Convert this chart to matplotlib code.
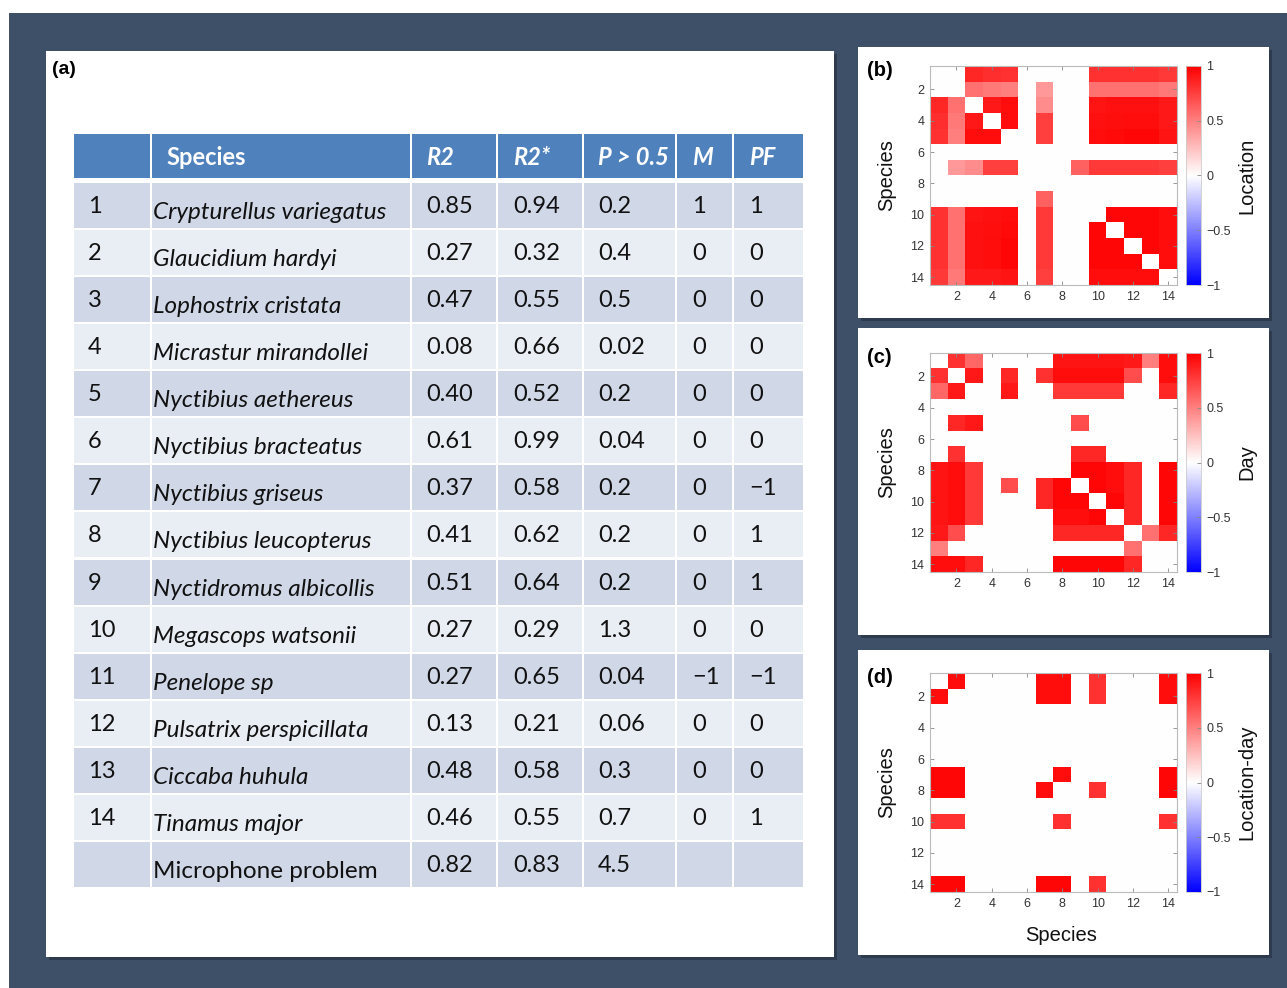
import matplotlib
matplotlib.use('Agg')
import matplotlib.pyplot as plt
from matplotlib.patches import Rectangle
import numpy as np

# ---------------- table data (panel a) ----------------
headers = ['', 'Species', 'R2', 'R2*', 'P > 0.5', 'M', 'PF']
index_labels = ['1', '2', '3', '4', '5', '6', '7', '8', '9', '10', '11', '12', '13', '14', '']
species = ['Crypturellus variegatus', 'Glaucidium hardyi', 'Lophostrix cristata',
           'Micrastur mirandollei', 'Nyctibius aethereus', 'Nyctibius bracteatus',
           'Nyctibius griseus', 'Nyctibius leucopterus', 'Nyctidromus albicollis',
           'Megascops watsonii', 'Penelope sp', 'Pulsatrix perspicillata',
           'Ciccaba huhula', 'Tinamus major', 'Microphone problem']
r2 = ['0.85', '0.27', '0.47', '0.08', '0.40', '0.61', '0.37', '0.41', '0.51', '0.27',
      '0.27', '0.13', '0.48', '0.46', '0.82']
r2_star = ['0.94', '0.32', '0.55', '0.66', '0.52', '0.99', '0.58', '0.62', '0.64', '0.29',
           '0.65', '0.21', '0.58', '0.55', '0.83']
p_gt = ['0.2', '0.4', '0.5', '0.02', '0.2', '0.04', '0.2', '0.2', '0.2', '1.3',
        '0.04', '0.06', '0.3', '0.7', '4.5']
m_col = ['1', '0', '0', '0', '0', '0', '0', '0', '0', '0', '\u22121', '0', '0', '0', '']
pf_col = ['1', '0', '0', '0', '0', '0', '\u22121', '1', '1', '0', '\u22121', '0', '0', '1', '']

# ---------------- correlation matrices (panels b-d) ----------------
location = [
    [0, 0, .85, .82, .80, 0, 0, 0, 0, .80, .80, .80, .80, .78],
    [0, 0, .55, .52, .50, 0, .40, 0, 0, .55, .55, .55, .55, .52],
    [.85, .55, 0, .90, .95, 0, .45, 0, 0, .92, .93, .93, .93, .90],
    [.82, .52, .90, 0, .95, 0, .75, 0, 0, .93, .94, .95, .95, .90],
    [.80, .50, .95, .95, 0, 0, .75, 0, 0, .95, .96, .97, .97, .92],
    [0, 0, 0, 0, 0, 0, 0, 0, 0, 0, 0, 0, 0, 0],
    [0, .40, .45, .75, .75, 0, 0, 0, .62, .78, .78, .78, .78, .75],
    [0, 0, 0, 0, 0, 0, 0, 0, 0, 0, 0, 0, 0, 0],
    [0, 0, 0, 0, 0, 0, .62, 0, 0, 0, 0, 0, 0, 0],
    [.80, .55, .92, .93, .95, 0, .78, 0, 0, 0, .97, .97, .97, .95],
    [.80, .55, .93, .94, .96, 0, .78, 0, 0, .97, 0, .97, .97, .95],
    [.80, .55, .93, .95, .97, 0, .78, 0, 0, .97, .97, 0, .97, .95],
    [.80, .55, .93, .95, .97, 0, .78, 0, 0, .97, .97, .97, 0, .95],
    [.78, .52, .90, .90, .92, 0, .75, 0, 0, .95, .95, .95, .95, 0],
]
day = [
    [0, .80, .60, 0, 0, 0, 0, .92, .92, .92, .92, .90, .50, .95],
    [.80, 0, .90, 0, .85, 0, .80, .95, .95, .95, .95, .70, 0, .95],
    [.60, .90, 0, 0, .90, 0, 0, .78, .78, .78, .78, 0, 0, .85],
    [0, 0, 0, 0, 0, 0, 0, 0, 0, 0, 0, 0, 0, 0],
    [0, .85, .90, 0, 0, 0, 0, 0, .70, 0, 0, 0, 0, 0],
    [0, 0, 0, 0, 0, 0, 0, 0, 0, 0, 0, 0, 0, 0],
    [0, .80, 0, 0, 0, 0, 0, 0, .85, .85, 0, 0, 0, 0],
    [.92, .95, .78, 0, 0, 0, 0, 0, .97, .97, .95, .85, 0, .97],
    [.92, .95, .78, 0, .70, 0, .85, .97, 0, .97, .95, .85, 0, .97],
    [.92, .95, .78, 0, 0, 0, .85, .97, .97, 0, .97, .85, 0, .97],
    [.92, .95, .78, 0, 0, 0, 0, .95, .95, .97, 0, .85, 0, .97],
    [.90, .70, 0, 0, 0, 0, 0, .85, .85, .85, .85, 0, .55, .85],
    [.50, 0, 0, 0, 0, 0, 0, 0, 0, 0, 0, .55, 0, 0],
    [.95, .95, .85, 0, 0, 0, 0, .97, .97, .97, .97, .85, 0, 0],
]
location_day = [
    [0, .95, 0, 0, 0, 0, .95, .95, 0, .80, 0, 0, 0, .95],
    [.95, 0, 0, 0, 0, 0, .95, .95, 0, .80, 0, 0, 0, .95],
    [0, 0, 0, 0, 0, 0, 0, 0, 0, 0, 0, 0, 0, 0],
    [0, 0, 0, 0, 0, 0, 0, 0, 0, 0, 0, 0, 0, 0],
    [0, 0, 0, 0, 0, 0, 0, 0, 0, 0, 0, 0, 0, 0],
    [0, 0, 0, 0, 0, 0, 0, 0, 0, 0, 0, 0, 0, 0],
    [.97, .97, 0, 0, 0, 0, 0, .95, 0, 0, 0, 0, 0, .97],
    [.97, .97, 0, 0, 0, 0, .95, 0, 0, .80, 0, 0, 0, .97],
    [0, 0, 0, 0, 0, 0, 0, 0, 0, 0, 0, 0, 0, 0],
    [.80, .80, 0, 0, 0, 0, 0, .80, 0, 0, 0, 0, 0, .80],
    [0, 0, 0, 0, 0, 0, 0, 0, 0, 0, 0, 0, 0, 0],
    [0, 0, 0, 0, 0, 0, 0, 0, 0, 0, 0, 0, 0, 0],
    [0, 0, 0, 0, 0, 0, 0, 0, 0, 0, 0, 0, 0, 0],
    [.97, .97, 0, 0, 0, 0, .97, .97, 0, .80, 0, 0, 0, 0],
]
tick_vals = [2, 4, 6, 8, 10, 12, 14]
cbar_ticks = [-1, -0.5, 0, 0.5, 1]
cbar_labels = ['\u22121', '\u22120.5', '0', '0.5', '1']

# ---------------- figure ----------------
W, H = 1287, 988
fig = plt.figure(figsize=(W / 100, H / 100), dpi=100, facecolor='white')

TFONT = ['Lato', 'DejaVu Sans']
PFONT = ['Liberation Sans', 'DejaVu Sans']


def px_axes(x0, y0, x1, y1):
    return fig.add_axes([x0 / W, 1 - y1 / H, (x1 - x0) / W, (y1 - y0) / H])


bg = fig.add_axes([0, 0, 1, 1])
bg.set_xlim(0, W)
bg.set_ylim(H, 0)
bg.axis('off')
bg.add_patch(Rectangle((9, 13), W - 9, H - 13, color='#3e4f68', lw=0))


def card(x0, y0, x1, y1):
    bg.add_patch(Rectangle((x0 + 3, y0 + 3), x1 - x0, y1 - y0, color='#2e3b4f', lw=0))
    bg.add_patch(Rectangle((x0, y0), x1 - x0, y1 - y0, color='white', lw=0))


card(46, 51, 834, 957)
card(858, 47, 1269, 318)
card(858, 328, 1269, 635)
card(858, 650, 1269, 955)

# ---------------- panel (a): table ----------------
bg.text(52, 70, '(a)', family=PFONT, fontsize=14, fontweight='bold', va='center', ha='left')

col_edges = [73, 151, 411, 497, 583, 676, 733, 804]
text_pad = [15, 2, 15, 16, 15, 16, 16]
header_top, header_bot = 134, 178
row_top0, row_pitch, row_h = 183, 47.07, 45
header_color = '#4f81bd'
row_colors = ['#d0d8e8', '#e9edf4']
FS = 17

for c in range(7):
    x0, x1 = col_edges[c] + 1, col_edges[c + 1] - 1
    bg.add_patch(Rectangle((x0, header_top), x1 - x0, header_bot - header_top,
                           color=header_color, lw=0))
    if headers[c]:
        style = 'normal' if headers[c] == 'Species' else 'italic'
        pad = 15 if headers[c] == 'Species' else text_pad[c]
        bg.text(col_edges[c] + pad, 165, headers[c], family=TFONT, fontsize=FS,
                fontweight='bold', style=style, color='white', va='baseline', ha='left')

columns = [index_labels, species, r2, r2_star, p_gt, m_col, pf_col]
for r in range(len(species)):
    top = row_top0 + r * row_pitch
    for c in range(7):
        x0, x1 = col_edges[c] + 1, col_edges[c + 1] - 1
        bg.add_patch(Rectangle((x0, top), x1 - x0, row_h, color=row_colors[r % 2], lw=0))
        txt = columns[c][r]
        if not txt:
            continue
        if c == 1:
            style = 'normal' if txt == 'Microphone problem' else 'italic'
            bg.text(col_edges[c] + text_pad[c], top + 36, txt, family=TFONT, fontsize=FS + 0.5,
                    style=style, color='#111111', va='baseline', ha='left')
        else:
            bg.text(col_edges[c] + text_pad[c], top + 30, txt, family=TFONT, fontsize=FS,
                    color='#111111', va='baseline', ha='left')


# ---------------- panels (b)-(d): heatmaps ----------------
def heatmap(mat, top, tag, label, with_xlabel=False):
    ax = px_axes(930, top, 1177, top + 219)
    im = ax.imshow(np.array(mat), cmap='bwr', vmin=-1, vmax=1,
                   extent=(0.5, 14.5, 14.5, 0.5), aspect='auto', interpolation='nearest')
    ax.set_xticks(tick_vals)
    ax.set_yticks(tick_vals)
    ax.tick_params(direction='in', length=3, width=0.6, color='#888888',
                   labelsize=9, labelcolor='#333333', pad=4, top=True, right=True)
    for lab in ax.get_xticklabels() + ax.get_yticklabels():
        lab.set_family(PFONT)
    for s in ax.spines.values():
        s.set_color('#bbbbbb')
        s.set_linewidth(0.8)

    cax = px_axes(1186, top, 1201, top + 219)
    cb = fig.colorbar(im, cax=cax, ticks=cbar_ticks)
    cb.ax.set_yticklabels(cbar_labels)
    cb.outline.set_edgecolor('#cccccc')
    cb.outline.set_linewidth(0.6)
    cb.ax.tick_params(direction='in', length=3, width=0.6, color='#888888',
                      labelsize=9, labelcolor='#333333', pad=4)
    for lab in cb.ax.get_yticklabels():
        lab.set_family(PFONT)

    mid = top + 219 / 2
    bg.text(867, top + 4, tag, family=PFONT, fontsize=14.5, fontweight='bold',
            va='center', ha='left')
    fig.text(887 / W, 1 - mid / H, 'Species', family=PFONT, fontsize=14.5,
             rotation=90, va='center', ha='center', color='#111111')
    fig.text(1247 / W, 1 - mid / H, label, family=PFONT, fontsize=14.5,
             rotation=90, va='center', ha='center', color='#111111')
    if with_xlabel:
        fig.text(1061 / W, 1 - 935 / H, 'Species', family=PFONT, fontsize=14.5,
                 va='center', ha='center', color='#111111')


heatmap(location, 66, '(b)', 'Location')
heatmap(day, 353, '(c)', 'Day')
heatmap(location_day, 673, '(d)', 'Location-day', with_xlabel=True)

fig.savefig('out.png', dpi=100, facecolor='white')
